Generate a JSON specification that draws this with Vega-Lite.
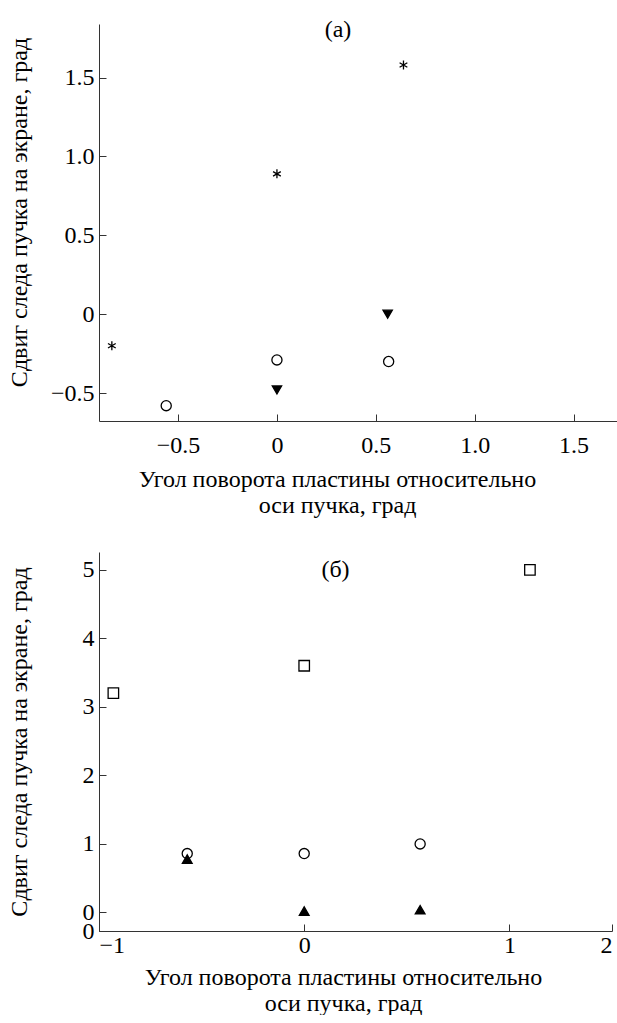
{
  "$schema": "https://vega.github.io/schema/vega-lite/v6.json",
  "padding": {"left": 6, "top": 18, "right": 0, "bottom": 0},
  "background": "white",
  "spacing": 35,
  "config": {
    "view": {"stroke": null},
    "font": "Liberation Serif",
    "axis": {
      "grid": false,
      "domainColor": "#333",
      "tickColor": "#333",
      "tickSize": -7,
      "labelFont": "Liberation Serif",
      "titleFont": "Liberation Serif",
      "labelFontSize": 24,
      "titleFontSize": 24,
      "labelColor": "black",
      "titleColor": "black",
      "titleFontWeight": "normal",
      "labelPadding": 12,
      "labelOverlap": false
    },
    "title": {"font": "Liberation Serif", "fontSize": 24, "fontWeight": "normal", "color": "black"}
  },
  "datasets": {
    "a": [
      {"x": -0.835, "y": -0.2, "s": "star"},
      {"x": 0.0, "y": 0.89, "s": "star"},
      {"x": 0.64, "y": 1.58, "s": "star"},
      {"x": 0.56, "y": 0.0, "s": "tridown"},
      {"x": 0.0, "y": -0.48, "s": "tridown"},
      {"x": 0.0, "y": -0.29, "s": "circ"},
      {"x": 0.565, "y": -0.3, "s": "circ"},
      {"x": -0.56, "y": -0.58, "s": "circ"}
    ],
    "b": [
      {"x": -0.93, "y": 3.2, "s": "sq"},
      {"x": 0.0, "y": 3.6, "s": "sq"},
      {"x": 1.1, "y": 5.0, "s": "sq"},
      {"x": -0.57, "y": 0.86, "s": "circ"},
      {"x": 0.0, "y": 0.86, "s": "circ"},
      {"x": 0.565, "y": 1.0, "s": "circ"},
      {"x": -0.57, "y": 0.78, "s": "triup"},
      {"x": 0.0, "y": 0.02, "s": "triup"},
      {"x": 0.565, "y": 0.04, "s": "triup"}
    ]
  },
  "vconcat": [
    {
      "width": 518,
      "height": 397,
      "title": {"text": "(а)", "dx": -20, "offset": -18},
      "data": {"name": "a"},
      "mark": {"type": "point", "strokeWidth": 1.3, "opacity": 1},
      "encoding": {
        "x": {"field": "x", "type": "quantitative",
          "scale": {"domain": [-0.9, 1.72], "nice": false, "zero": false},
          "axis": {"values": [-0.5, 0, 0.5, 1, 1.5],
            "labelExpr": "datum.value == 0 ? '0' : replace(format(datum.value, '.1f'), '-', '−')",
            "title": ["Угол поворота пластины относительно", "оси пучка, град"],
            "titleX": 238, "labelPadding": 19, "titlePadding": 10}},
        "y": {"field": "y", "type": "quantitative",
          "scale": {"domain": [-0.677, 1.84], "nice": false, "zero": false},
          "axis": {"values": [-0.5, 0, 0.5, 1, 1.5],
            "labelExpr": "datum.value == 0 ? '0' : replace(format(datum.value, '.1f'), '-', '−')",
            "title": "Сдвиг следа пучка на экране, град", "titleY": 188, "titleX": -68}},
        "shape": {"field": "s", "type": "nominal", "legend": null,
          "scale": {"domain": ["star", "tridown", "triup", "circ", "sq"],
            "range": ["M0,-1L0,1M-0.866,-0.5L0.866,0.5M-0.866,0.5L0.866,-0.5", "triangle-down", "triangle-up", "circle", "square"]}},
        "fill": {"field": "s", "type": "nominal", "legend": null,
          "scale": {"domain": ["star", "tridown", "triup", "circ", "sq"], "range": ["transparent", "black", "black", "white", "white"]}},
        "stroke": {"value": "black"},
        "size": {"field": "s", "type": "nominal", "legend": null,
          "scale": {"domain": ["star", "tridown", "triup", "circ", "sq"], "range": [80, 110, 110, 80, 80]}}
      }
    },
    {
      "width": 513,
      "height": 379,
      "title": {"text": "(б)", "dx": -20, "offset": -30},
      "data": {"name": "b"},
      "mark": {"type": "point", "strokeWidth": 1.3, "opacity": 1},
      "encoding": {
        "x": {"field": "x", "type": "quantitative",
          "scale": {"domain": [-1, 1.5], "nice": false, "zero": false},
          "axis": {"values": [-1, 0, 1, 1.5],
            "labelExpr": "datum.value == 1.5 ? '2' : replace(format(datum.value, 'd'), '-', '−')",
            "title": ["Угол поворота пластины относительно", "оси пучка, град"],
            "titleX": 244, "labelPadding": 9, "titlePadding": 8}},
        "y": {"field": "y", "type": "quantitative",
          "scale": {"domain": [-0.27, 5.26], "nice": false, "zero": false},
          "axis": {"values": [-0.27, 0, 1, 2, 3, 4, 5],
            "labelExpr": "datum.value < 0 ? '0' : format(datum.value, 'd')",
            "title": "Сдвиг следа пучка на экране, град", "titleX": -68}},
        "shape": {"field": "s", "type": "nominal", "legend": null},
        "fill": {"field": "s", "type": "nominal", "legend": null},
        "stroke": {"value": "black"},
        "size": {"field": "s", "type": "nominal", "legend": null}
      }
    }
  ]
}
